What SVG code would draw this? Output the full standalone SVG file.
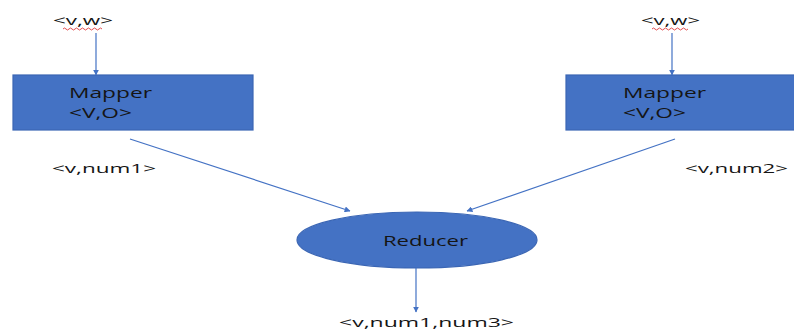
<svg xmlns="http://www.w3.org/2000/svg" width="794" height="331" viewBox="0 0 794 331">
  <style>
    .shape { fill: #4472C4; stroke: #3B66B4; stroke-width: 1.2; }
    .lbl { font-family: "Open Sans", "Liberation Sans", Arial, sans-serif; fill: #151515; }
    .small { font-size: 13.5px; }
    .big { font-size: 14px; }
    .edge { stroke: #4472C4; stroke-width: 1.2; fill: none; marker-end: url(#head); }
    .squiggle { stroke: #E0393B; stroke-width: 0.9; fill: none; }
  </style>
  <defs>
    <marker id="head" viewBox="0 0 10 10" refX="9" refY="5" markerWidth="6" markerHeight="6" orient="auto" markerUnits="userSpaceOnUse">
      <path d="M0,0 L10,5 L0,10 z" fill="#4472C4"/>
    </marker>
  </defs>

  <rect width="794" height="331" fill="#ffffff"/>

  <!-- inputs -->
  <g id="input-left">
    <text class="lbl small" x="53" y="25" textLength="60" lengthAdjust="spacingAndGlyphs">&lt;v,w&gt;</text>
    <path class="squiggle" d="M63,29 q1.5,-2 3,0 t3,0 t3,0 t3,0 t3,0 t3,0 t3,0 t3,0 t3,0 t3,0 t3,0 t3,0 t3,0"/>
  </g>
  <g id="input-right">
    <text class="lbl small" x="641" y="25" textLength="59" lengthAdjust="spacingAndGlyphs">&lt;v,w&gt;</text>
    <path class="squiggle" d="M652,29 q1.5,-2 3,0 t3,0 t3,0 t3,0 t3,0 t3,0 t3,0 t3,0 t3,0 t3,0 t3,0 t3,0"/>
  </g>

  <!-- mappers -->
  <g id="mapper-left">
    <rect class="shape" x="13" y="75" width="240" height="55"/>
    <text class="lbl big" x="69" y="98" textLength="83" lengthAdjust="spacingAndGlyphs">Mapper</text>
    <text class="lbl big" x="69" y="118" textLength="63" lengthAdjust="spacingAndGlyphs">&lt;V,O&gt;</text>
  </g>
  <g id="mapper-right">
    <rect class="shape" x="566" y="75" width="230" height="55"/>
    <text class="lbl big" x="623" y="98" textLength="83" lengthAdjust="spacingAndGlyphs">Mapper</text>
    <text class="lbl big" x="623" y="118" textLength="63" lengthAdjust="spacingAndGlyphs">&lt;V,O&gt;</text>
  </g>

  <!-- intermediate labels -->
  <g id="label-num1">
    <text class="lbl small" x="52" y="173" textLength="104" lengthAdjust="spacingAndGlyphs">&lt;v,num1&gt;</text>
  </g>
  <g id="label-num2">
    <text class="lbl small" x="685" y="173" textLength="103" lengthAdjust="spacingAndGlyphs">&lt;v,num2&gt;</text>
  </g>

  <!-- reducer -->
  <g id="reducer">
    <ellipse class="shape" cx="417" cy="240" rx="120" ry="28"/>
    <text class="lbl big" x="383" y="246" textLength="85" lengthAdjust="spacingAndGlyphs">Reducer</text>
  </g>

  <!-- output -->
  <g id="output">
    <text class="lbl small" x="339" y="326.5" textLength="175" lengthAdjust="spacingAndGlyphs">&lt;v,num1,num3&gt;</text>
  </g>

  <!-- connectors -->
  <g id="connectors">
    <line class="edge" x1="96" y1="33" x2="96" y2="75"/>
    <line class="edge" x1="672" y1="33" x2="672" y2="75"/>
    <line class="edge" x1="130" y1="139" x2="350" y2="211"/>
    <line class="edge" x1="675" y1="139" x2="467" y2="211"/>
    <line class="edge" x1="416" y1="268" x2="416" y2="312"/>
  </g>
</svg>
